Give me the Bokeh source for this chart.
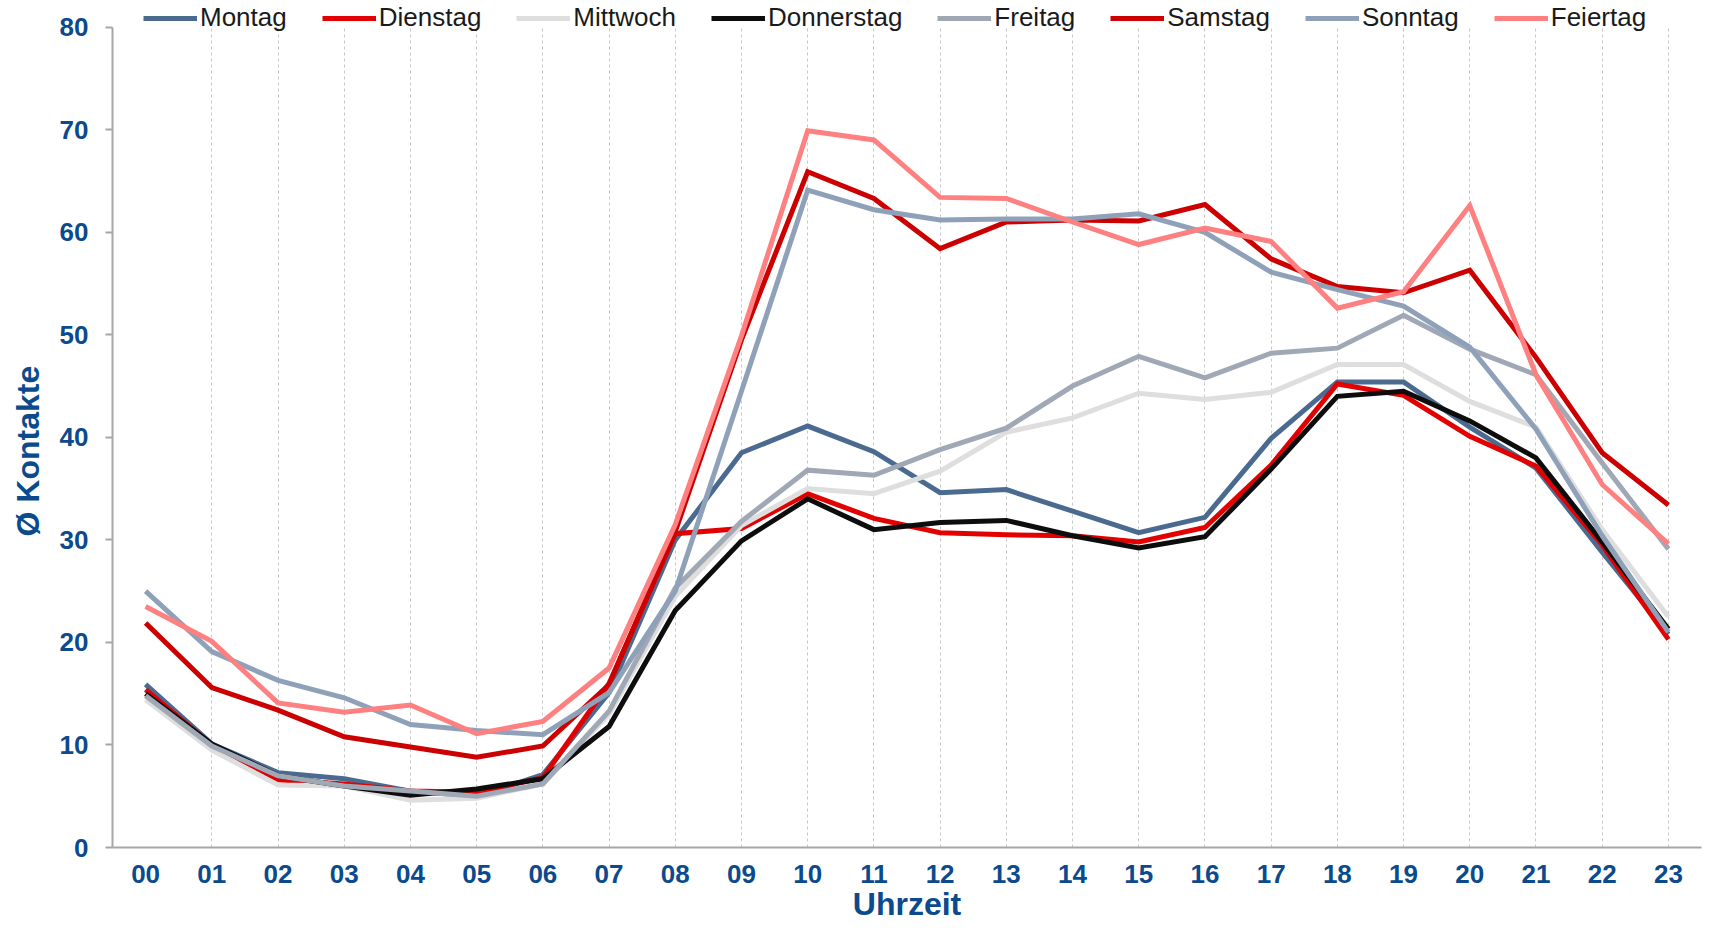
from bokeh.plotting import figure
from bokeh.models import FactorRange, Range1d, Legend, LegendItem, FixedTicker, Title
from bokeh.embed import file_html
from bokeh.resources import INLINE

hours = ["00", "01", "02", "03", "04", "05", "06", "07", "08", "09", "10", "11",
         "12", "13", "14", "15", "16", "17", "18", "19", "20", "21", "22", "23"]

montag = [15.9, 10.1, 7.3, 6.7, 5.5, 5.0, 7.1, 15.1, 30.0, 38.5, 41.1, 38.6,
          34.6, 34.9, 32.8, 30.7, 32.2, 39.9, 45.4, 45.4, 41.0, 37.0, 28.8, 20.8]
dienstag = [15.4, 10.0, 6.6, 6.2, 5.5, 5.4, 6.8, 16.0, 30.6, 31.1, 34.5, 32.1,
            30.7, 30.5, 30.4, 29.8, 31.2, 37.3, 45.2, 44.1, 40.1, 37.2, 29.5, 20.3]
mittwoch = [14.4, 9.5, 6.1, 6.0, 4.6, 4.8, 6.2, 13.0, 24.5, 31.4, 35.0, 34.5,
            36.7, 40.5, 41.9, 44.3, 43.7, 44.4, 47.1, 47.1, 43.5, 41.0, 31.0, 22.5]
donnerstag = [15.0, 10.1, 7.0, 6.0, 5.1, 5.7, 6.7, 11.8, 23.1, 29.9, 34.0, 31.0,
              31.7, 31.9, 30.4, 29.2, 30.3, 36.9, 44.0, 44.5, 41.6, 38.0, 29.8, 21.3]
freitag = [14.8, 9.9, 7.0, 6.0, 5.5, 5.0, 6.2, 13.3, 25.3, 31.8, 36.8, 36.3,
           38.8, 40.9, 45.0, 47.9, 45.8, 48.2, 48.7, 51.9, 48.6, 46.1, 37.5, 29.1]
samstag = [21.9, 15.6, 13.4, 10.8, 9.8, 8.8, 9.9, 15.9, 30.8, 49.5, 65.9, 63.3,
           58.4, 61.0, 61.2, 61.1, 62.7, 57.4, 54.7, 54.1, 56.3, 47.8, 38.5, 33.4]
sonntag = [25.0, 19.1, 16.3, 14.6, 12.0, 11.4, 11.0, 15.1, 25.0, 44.5, 64.1, 62.2,
           61.2, 61.3, 61.3, 61.8, 60.0, 56.1, 54.4, 52.8, 48.8, 40.8, 30.4, 21.0]
feiertag = [23.5, 20.1, 14.1, 13.2, 13.9, 11.1, 12.3, 17.5, 31.5, 49.9, 69.9, 69.0,
            63.4, 63.3, 61.0, 58.8, 60.4, 59.1, 52.6, 54.2, 62.6, 46.1, 35.4, 29.6]

names = ["Montag", "Dienstag", "Mittwoch", "Donnerstag", "Freitag", "Samstag", "Sonntag", "Feiertag"]
values = [montag, dienstag, mittwoch, donnerstag, freitag, samstag, sonntag, feiertag]
colors = ["#4b6a8f", "#e30000", "#dedede", "#0d0d0d", "#a0a8b6", "#cc0000", "#8fa1b9", "#ff8080"]

y_ticks = [0, 10, 20, 30, 40, 50, 60, 70, 80]
y_max_axis = 80
y_top = 82.6  # headroom for the legend row

BLUE = "#0b4a8c"
FONT = "Liberation Sans"

p = figure(width=1706, height=924,
           x_range=FactorRange(factors=hours, range_padding=0),
           y_range=Range1d(0, y_top),
           output_backend="svg", toolbar_location=None,
           min_border_left=0, min_border_right=5, min_border_top=0, min_border_bottom=0)
p.outline_line_color = None
p.background_fill_color = "white"
p.border_fill_color = "white"

items = []
for name, vals, col in zip(names, values, colors):
    r = p.line(x=hours, y=vals, line_width=5, line_color=col, line_join="miter")
    items.append(LegendItem(label=name, renderers=[r]))

# grid
p.ygrid.grid_line_color = None
p.xgrid.grid_line_color = "#c8c8c8"
p.xgrid.grid_line_dash = "3 3"
p.xgrid.grid_line_width = 1
p.xgrid.cross_bounds = (0, y_max_axis)

# y axis
p.yaxis.ticker = FixedTicker(ticks=y_ticks)
p.yaxis.bounds = (0, y_max_axis)
p.yaxis.axis_line_color = "#a6a6a6"
p.yaxis.axis_line_width = 2
p.yaxis.major_tick_line_color = "#a6a6a6"
p.yaxis.major_tick_line_width = 2
p.yaxis.major_tick_out = 7
p.yaxis.major_tick_in = 0
p.yaxis.minor_tick_line_color = None
p.yaxis.major_label_standoff = 17
p.yaxis.major_label_text_font = FONT
p.yaxis.major_label_text_font_style = "bold"
p.yaxis.major_label_text_font_size = "26px"
p.yaxis.major_label_text_color = BLUE

# y axis title, centred on the 0-80 span rather than the full frame
ytitle = Title(text="Ø Kontakte", align="left", vertical_align="top", offset=311,
               standoff=18, text_font=FONT, text_font_style="bold",
               text_font_size="32px", text_color=BLUE)
p.add_layout(ytitle, "left")

# x axis
p.xaxis.axis_line_color = "#a6a6a6"
p.xaxis.axis_line_width = 2
p.xaxis.major_tick_line_color = None
p.xaxis.major_tick_out = 0
p.xaxis.major_tick_in = 0
p.xaxis.minor_tick_line_color = None
p.xaxis.major_label_standoff = 17
p.xaxis.major_label_text_font = FONT
p.xaxis.major_label_text_font_style = "bold"
p.xaxis.major_label_text_font_size = "26px"
p.xaxis.major_label_text_color = BLUE
p.xaxis.axis_label = "Uhrzeit"
p.xaxis.axis_label_text_font = FONT
p.xaxis.axis_label_text_font_style = "bold"
p.xaxis.axis_label_text_font_size = "32px"
p.xaxis.axis_label_text_color = BLUE
p.xaxis.axis_label_standoff = 0

legend = Legend(items=items, orientation="horizontal", location=(31, 814),
                glyph_width=54, glyph_height=26, label_standoff=3, spacing=35,
                padding=0, margin=0, border_line_color=None,
                background_fill_alpha=0,
                label_text_font=FONT, label_text_font_size="26px",
                label_text_color="#1a1a1a")
p.add_layout(legend, "center")

open("out.html", "w").write(file_html(p, INLINE))
